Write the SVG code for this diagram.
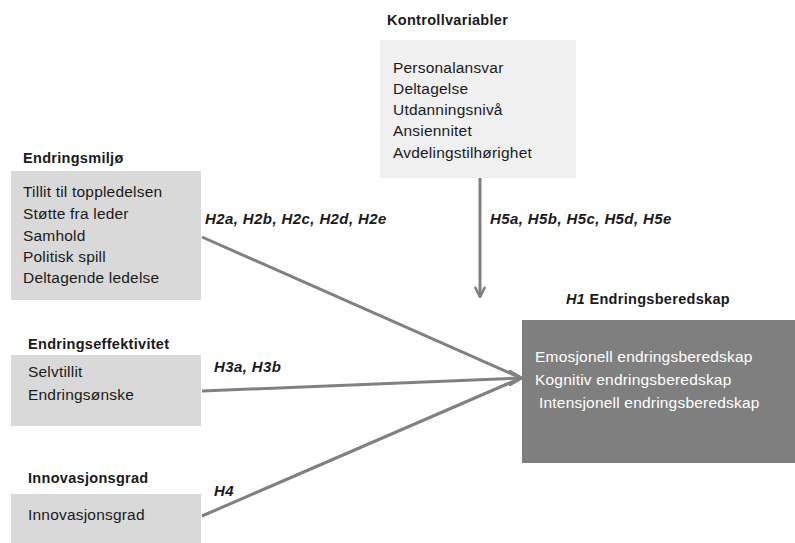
<svg xmlns="http://www.w3.org/2000/svg" width="795" height="543" viewBox="0 0 795 543">
<style>
  text { font-family: "Liberation Sans", Arial, sans-serif; font-size: 15.5px; fill: #1a1a1a; letter-spacing: 0.2px; }
  .title { font-weight: bold; font-size: 14.5px; letter-spacing: 0.3px; }
  .hyp { font-weight: bold; font-style: italic; font-size: 15px; letter-spacing: 0.4px; }
  .light { fill: #d9d9d9; }
  .lighter { fill: #f0f0f0; }
  .dark { fill: #7f7f7f; }
  .wt { fill: #ffffff; }
  .conn { stroke: #808080; stroke-width: 3; fill: none; }
</style>
<defs>
  <marker id="headR" viewBox="0 0 14 16" refX="13" refY="8" markerWidth="14" markerHeight="16" markerUnits="userSpaceOnUse" orient="0">
    <polyline points="1,1 13,8 1,15" fill="none" stroke="#808080" stroke-width="3"/>
  </marker>
  <marker id="headA" viewBox="0 0 14 14" refX="13" refY="7" markerWidth="12" markerHeight="12" markerUnits="userSpaceOnUse" orient="auto">
    <polyline points="1,1 13,7 1,13" fill="none" stroke="#808080" stroke-width="3"/>
  </marker>
</defs>

<g id="connectors">
  <line class="conn" x1="480" y1="178" x2="480" y2="297" marker-end="url(#headA)"/>
  <line class="conn" x1="202" y1="237" x2="521" y2="378" marker-end="url(#headR)"/>
  <line class="conn" x1="202" y1="391" x2="521" y2="378" marker-end="url(#headR)"/>
  <line class="conn" x1="202" y1="516" x2="521" y2="378" marker-end="url(#headR)"/>
  <text class="hyp" x="205" y="224">H2a, H2b, H2c, H2d, H2e</text>
  <text class="hyp" x="490" y="224">H5a, H5b, H5c, H5d, H5e</text>
  <text class="hyp" x="214" y="372">H3a, H3b</text>
  <text class="hyp" x="214" y="496">H4</text>
</g>

<g id="kontrollvariabler">
  <text class="title" x="387" y="25">Kontrollvariabler</text>
  <rect class="lighter" x="380" y="40" width="196" height="138"/>
  <text x="393" y="73">Personalansvar</text>
  <text x="393" y="94">Deltagelse</text>
  <text x="393" y="115">Utdanningsnivå</text>
  <text x="393" y="136">Ansiennitet</text>
  <text x="393" y="158">Avdelingstilhørighet</text>
</g>

<g id="endringsmiljo">
  <text class="title" x="23" y="163">Endringsmiljø</text>
  <rect class="light" x="11" y="171" width="190" height="129"/>
  <text x="23" y="197">Tillit til toppledelsen</text>
  <text x="23" y="219">Støtte fra leder</text>
  <text x="23" y="241">Samhold</text>
  <text x="23" y="262">Politisk spill</text>
  <text x="23" y="283">Deltagende ledelse</text>
</g>

<g id="endringseffektivitet">
  <text class="title" x="28" y="349">Endringseffektivitet</text>
  <rect class="light" x="11" y="355" width="190" height="71"/>
  <text x="28" y="377">Selvtillit</text>
  <text x="28" y="400">Endringsønske</text>
</g>

<g id="innovasjonsgrad">
  <text class="title" x="28" y="483">Innovasjonsgrad</text>
  <rect class="light" x="11" y="494" width="190" height="49"/>
  <text x="28" y="520">Innovasjonsgrad</text>
</g>

<g id="endringsberedskap">
  <text class="title" x="566" y="304"><tspan font-style="italic">H1</tspan> Endringsberedskap</text>
  <rect class="dark" x="522" y="320" width="273" height="143"/>
  <text class="wt" x="535" y="362">Emosjonell endringsberedskap</text>
  <text class="wt" x="535" y="385">Kognitiv endringsberedskap</text>
  <text class="wt" x="539" y="408">Intensjonell endringsberedskap</text>
</g>
</svg>
